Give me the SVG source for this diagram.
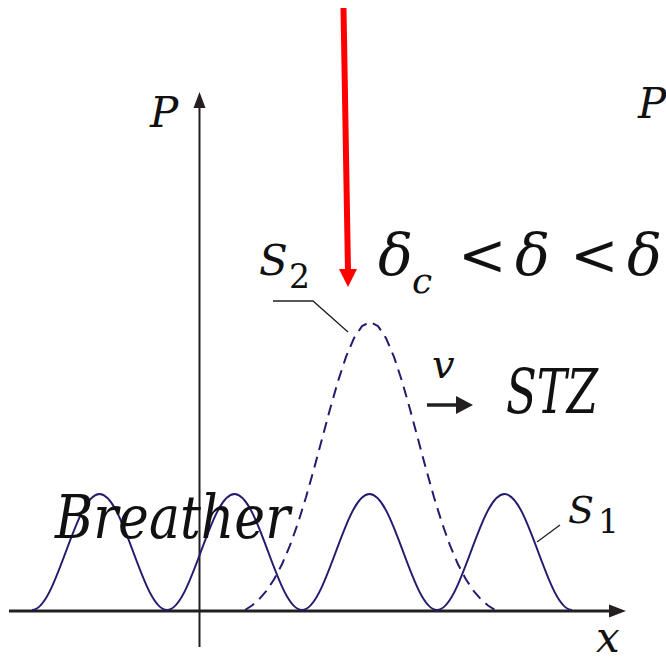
<svg xmlns="http://www.w3.org/2000/svg" width="666" height="663" viewBox="0 0 666 663">
<style>
text{font-family:'DejaVu Serif','Liberation Serif',serif;fill:#111}
.t{font-style:italic}
.ax{stroke:#231f20;fill:none}
.ah{fill:#231f20}
.wave{stroke:#221c6e;stroke-width:2;fill:none}
.lead{stroke:#231f20;stroke-width:1.3;fill:none}
</style>
<rect width="666" height="663" fill="#fff"/>
<g id="axes">
<line class="ax" x1="9" y1="611" x2="612" y2="611" stroke-width="3"/>
<polygon class="ah" points="609,604.5 626,611 609,617.5"/>
<line class="ax" x1="199.5" y1="647" x2="199.5" y2="105" stroke-width="2"/>
<polygon class="ah" points="193.5,108 199.5,92 205.5,108"/>
</g>
<g id="s1-curve">
<path class="wave" d="M32,610 c12.21,0 22.74,-28.29 33.75,-58 c11.01,-29.71 21.54,-58 33.75,-58 c12.21,0 22.74,28.29 33.75,58 c11.01,29.71 21.54,58 33.75,58 c12.21,0 22.74,-28.29 33.75,-58 c11.01,-29.71 21.54,-58 33.75,-58 c12.21,0 22.74,28.29 33.75,58 c11.01,29.71 21.54,58 33.75,58 c12.21,0 22.74,-28.29 33.75,-58 c11.01,-29.71 21.54,-58 33.75,-58 c12.21,0 22.74,28.29 33.75,58 c11.01,29.71 21.54,58 33.75,58 c12.21,0 22.74,-28.29 33.75,-58 c11.01,-29.71 21.54,-58 33.75,-58 c12.21,0 22.74,28.29 33.75,58 c11.01,29.71 21.54,58 33.75,58"/>
</g>
<g id="s2-curve">
<polyline class="wave" stroke-dasharray="11,7" stroke-linejoin="round" points="245,610 252,605.5 258,600.4 266,591.4 274,579.5 282,564.3 290,545.4 298,523 306,497.2 314,468.8 322,439 330,409.2 338,381.2 346,356.9 354,338.1 362,326.1 370,322 378,326.1 386,338.1 394,356.9 402,381.2 410,409.2 418,439 426,468.8 434,497.2 442,523 450,545.4 458,564.3 466,579.5 474,591.4 482,600.4 488,605.5 495,610"/>
</g>
<g id="connectors">
<polyline class="lead" points="273,301 313,301 348,332"/>
<line class="lead" x1="537" y1="542" x2="560" y2="525"/>
<line x1="427" y1="405" x2="458" y2="405" stroke="#231f20" stroke-width="3.5"/>
<polygon class="ah" points="456,396 473,405 456,414"/>
<line x1="343.5" y1="8" x2="348" y2="271" stroke="#ff0000" stroke-width="6"/>
<polygon fill="#ff0000" points="339,269 357,269 348,287"/>
</g>
<g id="labels">
<text class="t" x="150" y="127" font-size="42">P</text>
<text class="t" x="638" y="118" font-size="42">P</text>
<text class="t" x="596" y="652" font-size="42">x</text>
<text class="t" x="259" y="275" font-size="42">S</text>
<text x="289" y="288" font-size="33">2</text>
<text class="t" x="568" y="523" font-size="38">S</text>
<text x="598" y="533" font-size="33">1</text>
<text class="t" x="55" y="538" font-size="60" textLength="235" lengthAdjust="spacingAndGlyphs">Breather</text>
<text class="t" x="506" y="413" font-size="62" textLength="92" lengthAdjust="spacingAndGlyphs">STZ</text>
<text class="t" x="432" y="378" font-size="40">v</text>
<text class="t" x="378" y="275" font-size="58">δ</text>
<text class="t" x="412" y="293" font-size="36">c</text>
<text x="458" y="275" font-size="58">&lt;</text>
<text class="t" x="515" y="275" font-size="58">δ</text>
<text x="570" y="275" font-size="58">&lt;</text>
<text class="t" x="627" y="275" font-size="58">δ</text>
</g>
</svg>
